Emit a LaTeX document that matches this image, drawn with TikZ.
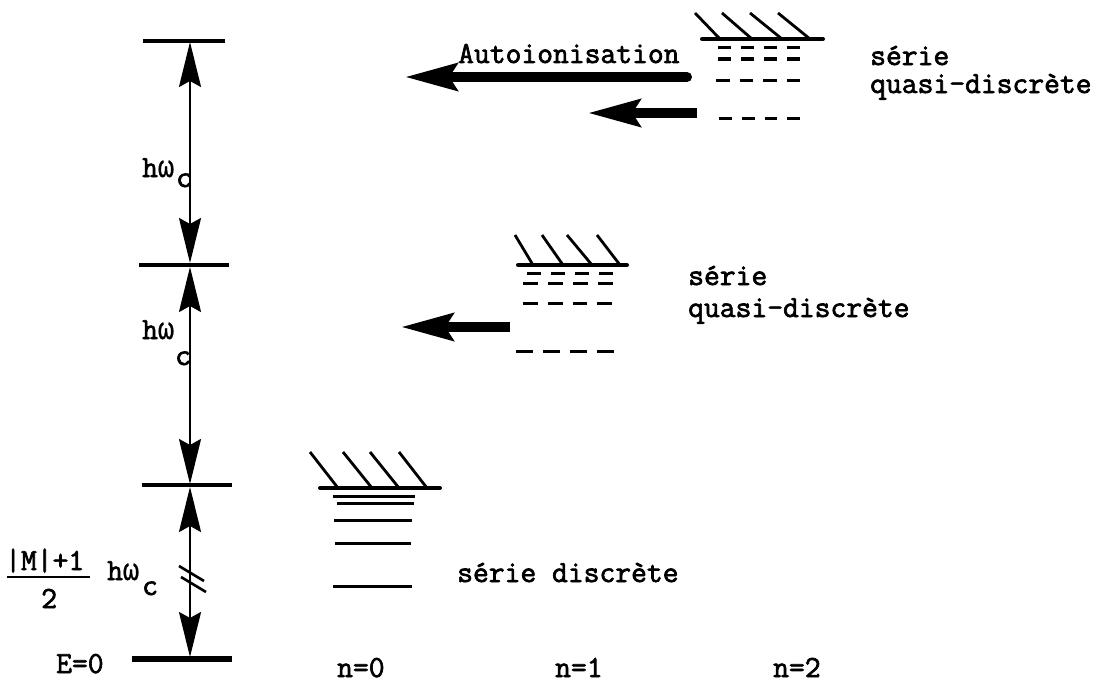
\documentclass[tikz,border=0pt]{standalone}
\usepackage{fontspec}
\newfontfamily\tw{Latin Modern Mono}[FakeBold=2.2]
\newfontfamily\gr{Liberation Mono}[FakeStretch=0.87,FakeBold=1.0]
\usetikzlibrary{arrows.meta}
\newcommand\dashrow[3]{%
  \pgfmathsetmacro\dlen{((#3)-(#2)-30)/4}%
  \draw[levdash,dash pattern=on \dlen pt off 10pt] (#2,#1)--(#3,#1);}
\begin{document}
\begin{tikzpicture}[x=1pt,y=-1pt,
  txt/.style={font=\tw\fontsize{30.7}{34}\selectfont, inner sep=0pt, anchor=base west},
  tick/.style={line width=3.4pt},
  lev/.style={line width=3pt},
  levdash/.style={line width=3pt},
  topline/.style={line width=4pt, line cap=round},
  hatch/.style={line width=2.8pt},
  dim/.style={line width=2.4pt, {Stealth[length=45pt,width=22pt,inset=6pt]}-{Stealth[length=45pt,width=22pt,inset=6pt]}},
  fat/.style={line width=10pt, -{Stealth[length=52pt,width=27pt,inset=8pt]}}]
\useasboundingbox (0,0) rectangle (1107,685);
\fill[white] (0,0) rectangle (1107,685);

% ---- energy scale ----
\draw[tick] (143,41)--(225,41);
\draw[tick] (139,265)--(229,265);
\draw[tick] (142,485)--(232,485);
\draw[line width=6pt] (132,659)--(232,659);

\coordinate (d1t) at (190,42);
\coordinate (d1b) at (190,263);
\coordinate (d2t) at (190,267);
\coordinate (d2b) at (190,484);
\coordinate (d3t) at (190,487);
\coordinate (d3b) at (190,657);
\draw[dim] (d1t)--(d1b);
\draw[dim] (d2t)--(d2b);
\draw[dim] (d3t)--(d3b);
% break mark
\draw[line width=2.6pt] (179,566)--(204,581);
\draw[line width=2.6pt] (181,577)--(206,592);

\node[txt] (h1) at (142,177) {h{\gr ω}};
\node[txt] (c1) at (176,187) {c};
\node[txt] (h2) at (142,339) {h{\gr ω}};
\node[txt] (c2) at (175,365) {c};
\node[txt] (h3) at (107,580) {h{\gr ω}};
\node[txt] (c3) at (142,595) {c};
\node[txt] (num) at (5,570) {|M|+1};
\draw[line width=2pt] (7,577)--(90,577);
\node[txt] (den) at (41,608) {2};
\node[txt] (E0) at (56,673) {E=0};

% ---- n=0 group ----
\draw[hatch] (310,452)--(338,488);
\draw[hatch] (343,452)--(372,488);
\draw[hatch] (370,452)--(399,488);
\draw[hatch] (399,452)--(427,488);
\draw[topline] (320,488)--(440,488);
\draw[lev] (333,496)--(415,496);
\draw[lev] (337,503)--(414,503);
\draw[lev] (334,520)--(412,520);
\draw[lev] (335,543)--(411,543);
\draw[lev] (333,586)--(412,586);
\node[txt] (s0) at (457,582) {série discrète};

% ---- n=1 group ----
\draw[hatch] (515,235)--(533,265);
\draw[hatch] (542,235)--(563,265);
\draw[hatch] (567,235)--(592,265);
\draw[hatch] (597,235)--(620,265);
\draw[topline] (518,265)--(627,265);
\dashrow{273}{527}{613}
\dashrow{283}{523}{613}
\dashrow{303}{523}{612}
\dashrow{351}{516}{614}
\node[txt] (s1a) at (688,285) {série};
\node[txt] (s1b) at (688,317) {quasi-discrète};
\coordinate (f1s) at (510,327);
\coordinate (f1e) at (401,327);
\draw[fat] (f1s)--(f1e);

% ---- n=2 group ----
\draw[hatch] (695,13)--(720,39);
\draw[hatch] (722,13)--(752,39);
\draw[hatch] (750,13)--(782,39);
\draw[hatch] (778,13)--(810,39);
\draw[topline] (702,39)--(823,39);
\dashrow{48}{718}{800}
\dashrow{59}{718}{800}
\dashrow{80}{716}{800}
\dashrow{118}{719}{800}
\node[txt] (s2a) at (870,65) {série};
\node[txt] (s2b) at (870,93) {quasi-discrète};
\coordinate (f2s) at (687,77);
\coordinate (f2e) at (405,77);
\draw[fat,line cap=round] (f2s)--(f2e);
\node[txt] (ai) at (458,63) {Autoionisation};
\coordinate (f3s) at (697,113);
\coordinate (f3e) at (588,113);
\draw[fat] (f3s)--(f3e);

% ---- n labels ----
\node[txt] (n0) at (337,677) {n=0};
\node[txt] (n1) at (555,677) {n=1};
\node[txt] (n2) at (773,677) {n=2};
\end{tikzpicture}
\end{document}
